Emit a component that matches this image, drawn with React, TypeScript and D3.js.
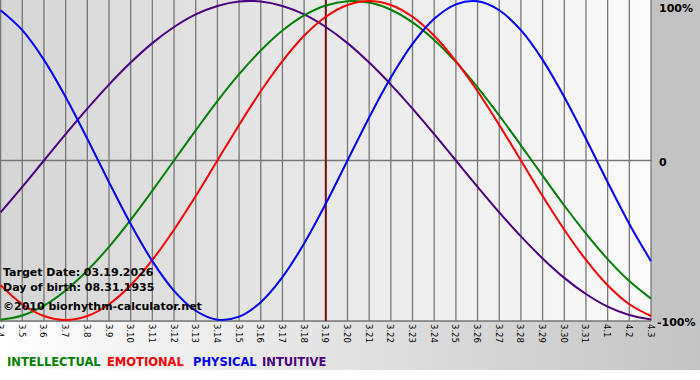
import React from "react";
import * as d3 from "d3";

const dates = ["3.4","3.5","3.6","3.7","3.8","3.9","3.10","3.11","3.12","3.13","3.14","3.15","3.16","3.17","3.18","3.19","3.20","3.21","3.22","3.23","3.24","3.25","3.26","3.27","3.28","3.29","3.30","3.31","4.1","4.2","4.3"];
const physical = [94.2,81.7,63.1,39.8,13.6,-13.6,-39.8,-63.1,-81.7,-94.2,-99.8,-97.9,-88.8,-73.1,-52.0,-27.0,0,27.0,52.0,73.1,88.8,97.9,99.8,94.2,81.7,63.1,39.8,13.6,-13.6,-39.8,-63.1];
const emotional = [-78.2,-90.1,-97.5,-100,-97.5,-90.1,-78.2,-62.3,-43.4,-22.3,0,22.3,43.4,62.3,78.2,90.1,97.5,100,97.5,90.1,78.2,62.3,43.4,22.3,0,-22.3,-43.4,-62.3,-78.2,-90.1,-97.5];
const intellectual = [-99.9,-97.2,-91.0,-81.5,-69.0,-54.1,-37.2,-18.9,0,18.9,37.2,54.1,69.0,81.5,91.0,97.2,99.9,99.0,94.5,86.6,75.6,61.8,45.8,28.2,9.5,-9.5,-28.2,-45.8,-61.8,-75.6,-86.6];
const intuitive = [-32.5,-16.5,0,16.5,32.5,47.6,61.4,73.6,83.7,91.6,96.9,99.7,99.7,96.9,91.6,83.7,73.6,61.4,47.6,32.5,16.5,0,-16.5,-32.5,-47.6,-61.4,-73.6,-83.7,-91.6,-96.9,-99.7];
const targetDate = "3.19";
const yTickLabels = [{ v: 100, t: "100%" }, { v: 0, t: "0" }, { v: -100, t: "-100%" }];
const infoLines = ["Target Date: 03.19.2026", "Day of birth: 08.31.1935", "©2010 biorhythm-calculator.net"];
const series = [
  { name: "INTELLECTUAL", values: intellectual, color: "#008000" },
  { name: "EMOTIONAL", values: emotional, color: "#ff0000" },
  { name: "PHYSICAL", values: physical, color: "#0000ff" },
  { name: "INTUITIVE", values: intuitive, color: "#4b0082" },
];
const drawOrder = ["INTUITIVE", "INTELLECTUAL", "EMOTIONAL", "PHYSICAL"];

export default function App() {
  const W = 700, H = 380;
  const plotL = 0, plotR = 651, plotT = 0, plotB = 321;
  const x = d3.scaleLinear().domain([0, dates.length - 1]).range([0.6, 651]);
  const y = d3.scaleLinear().domain([-100, 100]).range([320, 1]);
  const line = d3
    .line<number>()
    .x((_, i) => x(i))
    .y((d) => y(d))
    .curve(d3.curveCatmullRom.alpha(0.5));
  const font = "Verdana, 'DejaVu Sans', sans-serif";
  const ti = dates.indexOf(targetDate);
  const legendX = [7, 107, 193, 262];
  return (
    <svg width={W} height={H} style={{ position: "absolute", left: 0, top: 0, display: "block" }}>
      <defs>
        <linearGradient id="plotbg" x1="0" x2="1" y1="0" y2="0">
          <stop offset="0" stopColor="#d6d6d6" />
          <stop offset="1" stopColor="#fbfbfb" />
        </linearGradient>
        <linearGradient id="botbg" x1="0" x2="1" y1="0" y2="0">
          <stop offset="0" stopColor="#ffffff" />
          <stop offset="1" stopColor="#c4c4c4" />
        </linearGradient>
      </defs>
      <rect x={0} y={0} width={W} height={H} fill="#ffffff" />
      <rect x={0} y={0} width={W} height={322} fill="#c3c3c3" />
      <rect x={0} y={322} width={W} height={48} fill="url(#botbg)" />
      <rect x={plotL} y={plotT} width={plotR - plotL} height={plotB - plotT} fill="url(#plotbg)" />
      {dates.map((d, i) => (
        <line key={"g" + d} x1={x(i)} x2={x(i)} y1={plotT} y2={plotB} stroke="#777777" strokeWidth={1.3} />
      ))}
      <line x1={plotL} x2={plotR + 1} y1={y(0)} y2={y(0)} stroke="#777777" strokeWidth={1.3} />
      <line x1={plotL} x2={plotR} y1={plotB} y2={plotB} stroke="#777777" strokeWidth={1.3} />
      <line x1={x(ti)} x2={x(ti)} y1={plotT} y2={plotB} stroke="#7a1010" strokeWidth={2} />
      {drawOrder.map((n) => {
        const s = series.find((q) => q.name === n)!;
        return <path key={n} d={line(s.values) || ""} fill="none" stroke={s.color} strokeWidth={2} />;
      })}
      {infoLines.map((t, i) => (
        <text key={t} x={3} y={[276, 291, 310][i]} fontFamily={font} fontWeight="bold" fontSize={11} fill="#000">
          {t}
        </text>
      ))}
      {yTickLabels.map((l) => (
        <text key={l.t} x={l.v === -100 ? 657 : 659} y={y(l.v) + (l.v === 100 ? 11 : l.v === 0 ? 5 : 6)} fontFamily={font} fontWeight="bold" fontSize={11} fill="#000">
          {l.t}
        </text>
      ))}
      {dates.map((d, i) => (
        <text key={"t" + d} transform={`translate(${x(i) - 3.5},324) rotate(90)`} fontFamily={font} fontSize={8.5} fill="#000">
          {d}
        </text>
      ))}
      {series.map((s, i) => (
        <text key={"l" + s.name} x={legendX[i]} y={366} fontFamily={font} fontWeight="bold" fontSize={11.5} fill={s.color}>
          {s.name}
        </text>
      ))}
    </svg>
  );
}
